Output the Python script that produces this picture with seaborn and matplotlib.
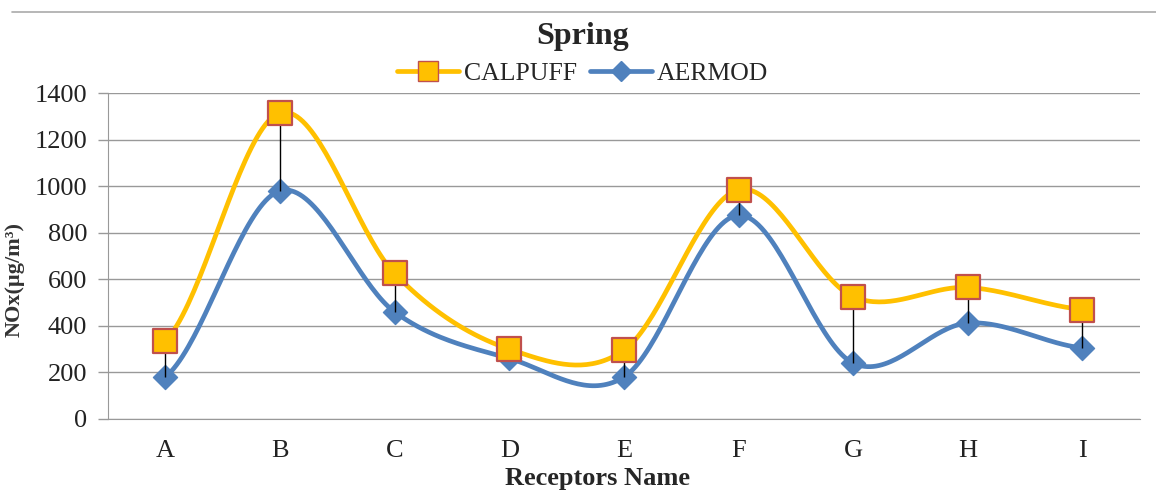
import matplotlib
matplotlib.use("Agg")
import matplotlib.pyplot as plt
import numpy as np
import pandas as pd
import seaborn as sns
from matplotlib.lines import Line2D

# Data
receptors = ["A", "B", "C", "D", "E", "F", "G", "H", "I"]
calpuff = [335, 1315, 625, 300, 295, 985, 525, 565, 470]
aermod = [180, 980, 460, 260, 180, 875, 240, 412, 305]
y_ticks = [0, 200, 400, 600, 800, 1000, 1200, 1400]

CAL_COLOR = "#FFC000"
CAL_EDGE = "#C0504D"
AER_COLOR = "#4F81BD"


def smooth_curve(values, steps=40):
    """Catmull-Rom smoothing, similar to a spreadsheet 'smoothed line'."""
    y = np.asarray(values, dtype=float)
    x = np.arange(len(y), dtype=float)
    yp = np.concatenate([[y[0]], y, [y[-1]]])
    xs, ys = [], []
    for i in range(len(y) - 1):
        p0, p1, p2, p3 = yp[i], yp[i + 1], yp[i + 2], yp[i + 3]
        t = np.linspace(0, 1, steps, endpoint=False)
        seg = 0.5 * ((2 * p1) + (-p0 + p2) * t
                     + (2 * p0 - 5 * p1 + 4 * p2 - p3) * t ** 2
                     + (-p0 + 3 * p1 - 3 * p2 + p3) * t ** 3)
        xs.append(x[i] + t)
        ys.append(seg)
    xs.append([x[-1]])
    ys.append([y[-1]])
    return np.concatenate(xs), np.concatenate(ys)


sns.set_style("white")
plt.rcParams["font.family"] = ["Liberation Serif", "DejaVu Serif"]

fig = plt.figure(figsize=(11.56, 4.9), dpi=100)
ax = fig.add_axes([0.0934, 0.145, 0.8926, 0.665])

pos = np.arange(len(receptors))
df = pd.DataFrame({"pos": pos, "CALPUFF": calpuff, "AERMOD": aermod})

# high-low lines
ax.vlines(df["pos"], df["AERMOD"], df["CALPUFF"], color="black", lw=1, zorder=5)

cx, cy = smooth_curve(calpuff)
ax_x, ax_y = smooth_curve(aermod)
sns.lineplot(x=cx, y=cy, ax=ax, color=CAL_COLOR, lw=3.4, sort=False, zorder=3)
sns.lineplot(x=ax_x, y=ax_y, ax=ax, color=AER_COLOR, lw=3.4, sort=False, zorder=3)

sns.scatterplot(data=df, x="pos", y="AERMOD", ax=ax, marker="D", s=150,
                color=AER_COLOR, edgecolor=AER_COLOR, linewidth=1, zorder=4)
sns.scatterplot(data=df, x="pos", y="CALPUFF", ax=ax, marker="s", s=290,
                color=CAL_COLOR, edgecolor=CAL_EDGE, linewidth=1.6, zorder=6)

ax.set_xlim(-0.5, 8.5)
ax.set_ylim(0, 1400)
ax.set_yticks(y_ticks)
ax.set_xticks(pos)
ax.set_xticklabels(receptors)
ax.tick_params(axis="both", labelsize=19, colors="#222222")
ax.tick_params(axis="y", length=7, width=1, color="#999999", pad=8, left=True)
ax.tick_params(axis="x", length=0, pad=15)
ax.grid(axis="y", color="#999999", lw=1)
ax.set_axisbelow(True)
for side in ["top", "right"]:
    ax.spines[side].set_visible(False)
ax.spines["left"].set_color("#999999")
ax.spines["bottom"].set_color("#999999")
ax.set_xlabel("")
ax.set_ylabel("")

fig.text(0.504, 0.925, "Spring", ha="center", va="center", fontsize=23,
         fontweight="bold")
handles = [
    Line2D([0], [0], color=CAL_COLOR, lw=3.4, marker="s", markersize=14,
           markerfacecolor=CAL_COLOR, markeredgecolor=CAL_EDGE),
    Line2D([0], [0], color=AER_COLOR, lw=3.4, marker="D", markersize=10,
           markerfacecolor=AER_COLOR, markeredgecolor=AER_COLOR),
]
fig.legend(handles, ["CALPUFF", "AERMOD"], loc="center",
           bbox_to_anchor=(0.504, 0.849), ncol=2, frameon=False, fontsize=18.5,
           handlelength=2.4, handletextpad=0.2, columnspacing=0.5)

fig.text(0.517, 0.024, "Receptors Name", ha="center", va="center",
         fontsize=19, fontweight="bold")
fig.text(0.0125, 0.43, "NOx(µg/m³)", ha="center", va="center", rotation=90,
         fontsize=16, fontweight="bold", color="#333333")

# thin frame line across the top
fig.add_artist(Line2D([0.01, 1.0], [0.975, 0.975], color="#AAAAAA", lw=1.2))

fig.savefig("out.png", dpi=100)
